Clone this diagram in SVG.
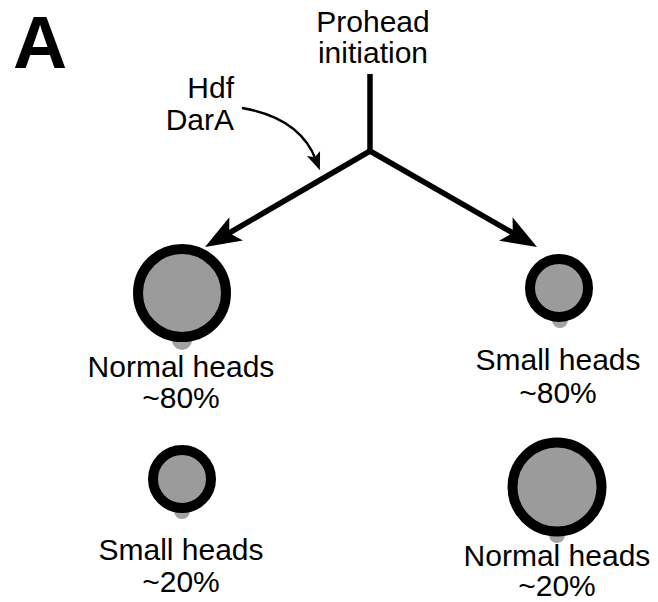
<svg xmlns="http://www.w3.org/2000/svg" width="658" height="602" viewBox="0 0 658 602">
<style>
text{font-family:"Liberation Sans",Arial,sans-serif;fill:#000}
.lbl{font-size:30px;text-anchor:middle}
.side{font-size:30px;text-anchor:end}
.ring{fill:#9b9b9b;stroke:#000;stroke-width:10}
.nub{fill:#a3a3a3}
.conn{fill:none;stroke:#000}
</style>
<defs>
<marker id="bigHead" markerUnits="userSpaceOnUse" viewBox="-20 -15 45 30" markerWidth="45" markerHeight="30" refX="0" refY="0" orient="auto-start-reverse" overflow="visible">
<path d="M20,0 L-16,-13.5 L-8,0 L-16,13.5 Z" fill="#000"/>
</marker>
<marker id="smallHead" markerUnits="userSpaceOnUse" viewBox="-10 -10 25 20" markerWidth="25" markerHeight="20" refX="0" refY="0" orient="auto" overflow="visible">
<path d="M11,0 L-7,-7 L-3,0 L-7,7 Z" fill="#000"/>
</marker>
</defs>
<rect width="658" height="602" fill="#fff"/>
<text x="13" y="68" style="font-size:75px;font-weight:bold">A</text>
<g id="connectors">
<path class="conn" d="M370,74 V152" stroke-width="5.5"/>
<path class="conn" d="M222.3,237 L370,151 L519.7,237" stroke-width="5.5" stroke-linejoin="miter" marker-start="url(#bigHead)" marker-end="url(#bigHead)"/>
<path class="conn" d="M242,108 Q300,118 316,160" stroke-width="2.5" marker-end="url(#smallHead)"/>
</g>
<g id="prohead-initiation">
<text class="lbl" x="373" y="32">Prohead</text>
<text class="lbl" x="373" y="63">initiation</text>
</g>
<g id="hdf-dara">
<text class="side" x="234" y="98">Hdf</text>
<text class="side" x="234" y="130">DarA</text>
</g>
<g id="normal-heads-80">
<circle class="nub" cx="182" cy="340" r="10"/>
<circle class="ring" cx="182" cy="293" r="44"/>
<text class="lbl" x="181" y="377">Normal heads</text>
<text class="lbl" x="181" y="408">~80%</text>
</g>
<g id="small-heads-80">
<circle class="nub" cx="560" cy="320" r="8"/>
<circle class="ring" cx="559" cy="288" r="29"/>
<text class="lbl" x="558" y="370">Small heads</text>
<text class="lbl" x="558" y="403">~80%</text>
</g>
<g id="small-heads-20">
<circle class="nub" cx="182" cy="511" r="8"/>
<circle class="ring" cx="182" cy="479" r="29"/>
<text class="lbl" x="181" y="560">Small heads</text>
<text class="lbl" x="181" y="592">~20%</text>
</g>
<g id="normal-heads-20">
<circle class="nub" cx="557" cy="535" r="8"/>
<circle class="ring" cx="557" cy="487" r="44.5"/>
<text class="lbl" x="557" y="566">Normal heads</text>
<text class="lbl" x="557" y="596">~20%</text>
</g>
</svg>
